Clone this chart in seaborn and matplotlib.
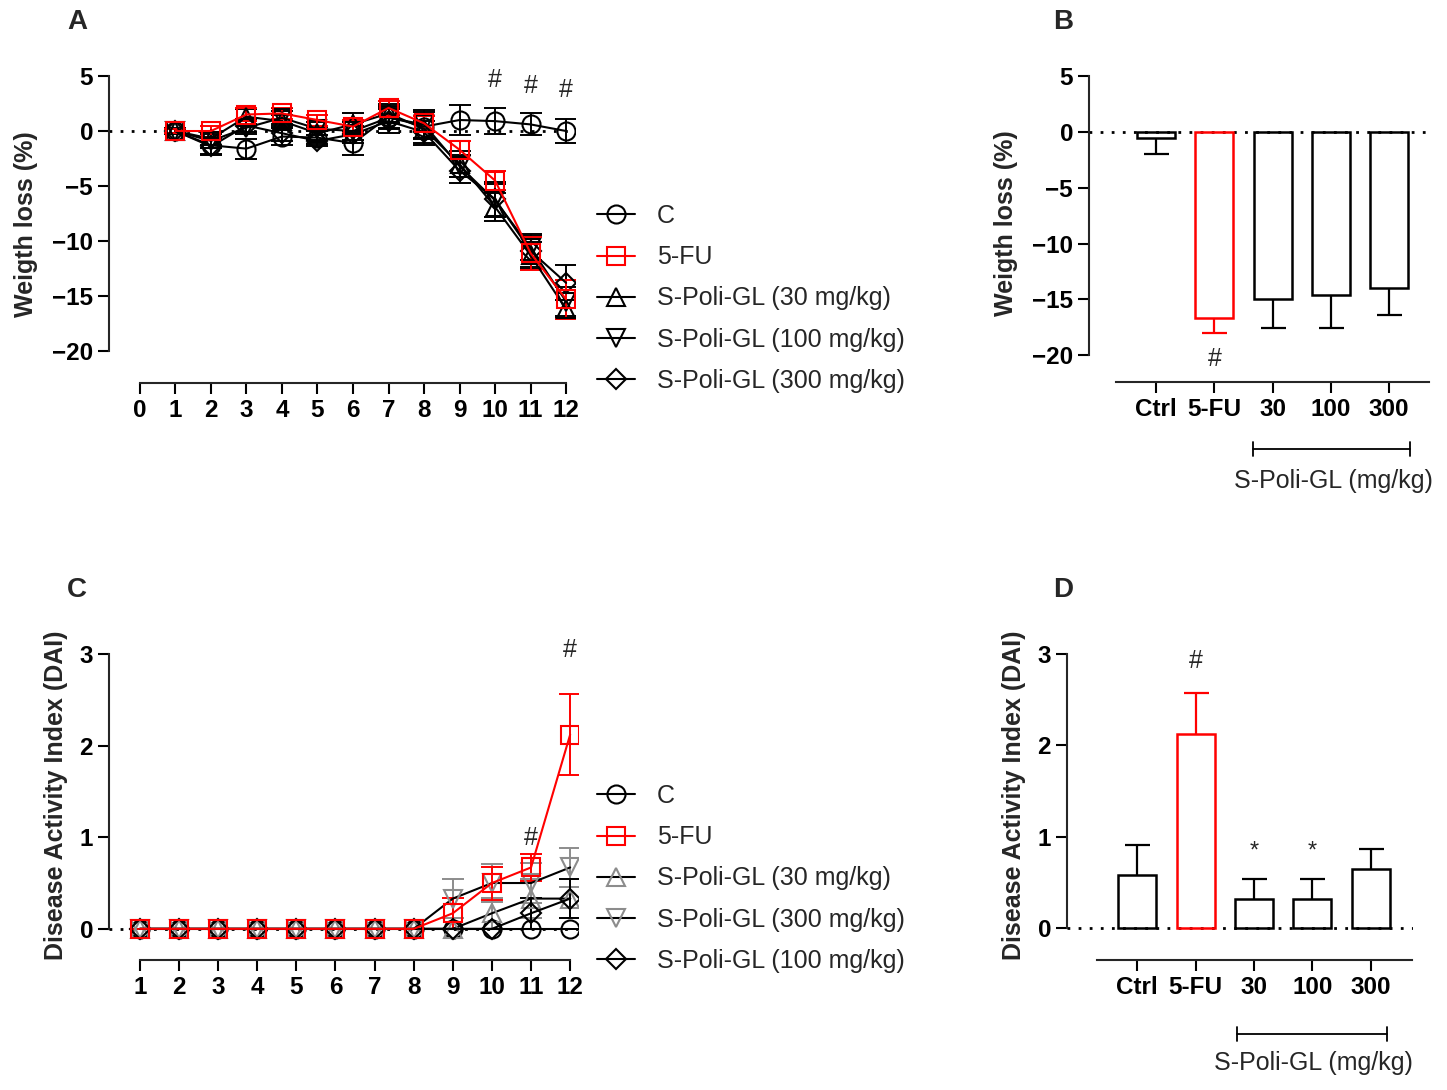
import numpy as np
import matplotlib
matplotlib.use('Agg')
import matplotlib.pyplot as plt
import matplotlib.transforms as mtransforms
import seaborn as sns

sns.set_style('ticks')
plt.rcParams['font.family'] = ['Liberation Sans', 'DejaVu Sans']

RED = '#ff0000'
GREY = '#8c8c8c'

# ---- panel A: weight loss (%) per day ----
days_a = [1, 2, 3, 4, 5, 6, 7, 8, 9, 10, 11, 12]
c_a = [0, -1.3, -1.6, -0.5, -0.6, -1.1, 1.3, 0.4, 1.0, 0.9, 0.6, 0.0]
c_a_sem = [0.3, 0.8, 0.9, 0.8, 0.6, 1.1, 1.0, 1.0, 1.4, 1.2, 1.0, 1.1]
fu_a = [0, 0.0, 1.5, 1.6, 1.0, 0.4, 2.1, 0.7, -1.7, -4.5, -11.1, -15.3]
fu_a_sem = [0.2, 0.5, 0.6, 0.5, 0.5, 0.6, 0.6, 0.7, 0.8, 0.9, 1.5, 1.8]
p30_a = [0, -0.7, 1.3, 0.9, -0.2, 0.6, 1.6, 0.2, -3.0, -6.9, -11.3, -16.2]
p30_a_sem = [0.2, 0.6, 0.7, 0.6, 0.6, 1.0, 0.9, 1.5, 1.2, 1.3, 1.2, 0.8]
p100_a = [0, -0.9, 0.3, 1.2, 0.2, 0.0, 1.2, 0.6, -3.2, -6.3, -10.6, -15.5]
p100_a_sem = [0.2, 0.6, 0.6, 0.6, 0.6, 0.8, 1.0, 1.3, 1.0, 1.5, 1.1, 1.3]
p300_a = [0, -1.4, 0.5, -0.2, -0.9, -0.3, 0.9, -0.1, -3.6, -6.2, -10.9, -13.8]
p300_a_sem = [0.2, 0.8, 0.6, 0.7, 0.5, 0.8, 1.1, 1.0, 1.1, 1.6, 1.5, 1.6]

# ---- panel C: DAI per day ----
days_c = [1, 2, 3, 4, 5, 6, 7, 8, 9, 10, 11, 12]
c_c = [0, 0, 0, 0, 0, 0, 0, 0, 0, 0, 0, 0]
c_c_sem = [0, 0, 0, 0, 0, 0, 0, 0, 0, 0, 0, 0]
fu_c = [0, 0, 0, 0, 0, 0, 0, 0, 0.17, 0.5, 0.67, 2.12]
fu_c_sem = [0, 0, 0, 0, 0, 0, 0, 0, 0.17, 0.18, 0.15, 0.44]
p30_c = [0, 0, 0, 0, 0, 0, 0, 0, 0, 0.17, 0.33, 0.33]
p30_c_sem = [0, 0, 0, 0, 0, 0, 0, 0, 0, 0.17, 0.21, 0.21]
p300_c = [0, 0, 0, 0, 0, 0, 0, 0, 0.33, 0.5, 0.5, 0.67]
p300_c_sem = [0, 0, 0, 0, 0, 0, 0, 0, 0.21, 0.21, 0.22, 0.21]
p100_c = [0, 0, 0, 0, 0, 0, 0, 0, 0, 0, 0.17, 0.33]
p100_c_sem = [0, 0, 0, 0, 0, 0, 0, 0, 0, 0, 0.17, 0.21]

# ---- panels B and D: day 12 ----
groups = ['Ctrl', '5-FU', '30', '100', '300']
b_vals = [-0.5, -16.7, -15.0, -14.6, -14.0]
b_sem = [1.5, 1.3, 2.6, 3.0, 2.4]
d_vals = [0.58, 2.12, 0.32, 0.32, 0.65]
d_sem = [0.33, 0.45, 0.22, 0.22, 0.22]

W, H = 1447, 1090
fig = plt.figure(figsize=(W / 100, H / 100), dpi=100)


def px_axes(left, top, right, bottom):
    return fig.add_axes([left / W, 1 - bottom / H, (right - left) / W, (bottom - top) / H])


def style_axes(ax, ybounds, xbounds):
    sns.despine(ax=ax)
    ax.spines['left'].set_bounds(*ybounds)
    ax.spines['bottom'].set_bounds(*xbounds)
    for s in ('left', 'bottom'):
        ax.spines[s].set_linewidth(1.5)
    ax.tick_params(width=1.5, length=8, labelsize=17.5, colors='black')
    for lab in ax.get_xticklabels() + ax.get_yticklabels():
        lab.set_fontweight('bold')
    ax.axhline(0, color='black', ls=(0, (1, 3)), lw=2, zorder=0.5)


def draw_series(ax, x, y, sem, color, mcolor, marker, label, ms=13):
    ax.errorbar(x, y, yerr=sem, fmt='none', ecolor=mcolor, elinewidth=1.4,
                capsize=8, capthick=1.4, zorder=2)
    sns.lineplot(x=x, y=y, color=color, marker=marker, markersize=ms,
                 markerfacecolor='none', markeredgecolor=mcolor, markeredgewidth=1.5,
                 linewidth=1.5, label=label, ax=ax, zorder=3)


def side_legend(ax, order, top_px):
    h, l = ax.get_legend_handles_labels()
    hd = dict(zip(l, h))
    ax.legend([hd[k] for k in order], order, loc='upper left',
              bbox_to_anchor=(597 / W, 1 - top_px / H), bbox_transform=fig.transFigure,
              frameon=False, fontsize=18, handlelength=1.5, handletextpad=0.9,
              labelspacing=0.69, borderaxespad=0, borderpad=0)


# ================= A =================
axA = px_axes(109, 65, 575, 383)
draw_series(axA, days_a, c_a, c_a_sem, 'black', 'black', 'o', 'C')
draw_series(axA, days_a, p30_a, p30_a_sem, 'black', 'black', '^', 'S-Poli-GL (30 mg/kg)')
draw_series(axA, days_a, p100_a, p100_a_sem, 'black', 'black', 'v', 'S-Poli-GL (100 mg/kg)')
draw_series(axA, days_a, p300_a, p300_a_sem, 'black', 'black', 'D', 'S-Poli-GL (300 mg/kg)', ms=10)
draw_series(axA, days_a, fu_a, fu_a_sem, RED, RED, 's', '5-FU')
axA.set_xlim(-0.87, 12.25)
axA.set_ylim(-22.9, 6)
axA.set_xticks(range(0, 13))
axA.set_yticks([5, 0, -5, -10, -15, -20])
axA.set_xlabel('')
axA.set_ylabel('Weigth loss (%)', fontsize=18, fontweight='bold', labelpad=10)
style_axes(axA, (-20, 5), (0, 12))
for d, yy in zip([10, 11, 12], [4.6, 4.1, 3.7]):
    axA.text(d, yy, '#', fontsize=18, ha='center', va='center')
side_legend(axA, ['C', '5-FU', 'S-Poli-GL (30 mg/kg)', 'S-Poli-GL (100 mg/kg)',
                  'S-Poli-GL (300 mg/kg)'], 204)

# ================= C =================
axC = px_axes(109, 631, 578, 960)
draw_series(axC, days_c, c_c, c_c_sem, 'black', 'black', 'o', 'C')
draw_series(axC, days_c, p30_c, p30_c_sem, 'black', GREY, '^', 'S-Poli-GL (30 mg/kg)')
draw_series(axC, days_c, p300_c, p300_c_sem, 'black', GREY, 'v', 'S-Poli-GL (300 mg/kg)')
draw_series(axC, days_c, p100_c, p100_c_sem, 'black', 'black', 'D', 'S-Poli-GL (100 mg/kg)', ms=10)
draw_series(axC, days_c, fu_c, fu_c_sem, RED, RED, 's', '5-FU')
axC.set_xlim(0.21, 12.2)
axC.set_ylim(-0.34, 3.25)
axC.set_xticks(range(1, 13))
axC.set_yticks([0, 1, 2, 3])
axC.set_xlabel('')
axC.set_ylabel('Disease Activity Index (DAI)', fontsize=18, fontweight='bold', labelpad=8)
style_axes(axC, (0, 3), (1, 12))
axC.text(11, 0.99, '#', fontsize=18, ha='center', va='center')
axC.text(12, 3.04, '#', fontsize=18, ha='center', va='center')
side_legend(axC, ['C', '5-FU', 'S-Poli-GL (30 mg/kg)', 'S-Poli-GL (300 mg/kg)',
                  'S-Poli-GL (100 mg/kg)'], 784)


# ================= bar panels =================
def bar_panel(ax, vals, sem, downward):
    pal = ['black', RED, 'black', 'black', 'black']
    sns.barplot(x=groups, y=vals, hue=groups, palette=pal, fill=False, legend=False,
                width=0.65, linewidth=1.8, errorbar=None, ax=ax, zorder=2)
    xs = np.arange(len(groups))
    zeros = np.zeros(len(groups))
    yerr = [sem, zeros] if downward else [zeros, sem]
    for i in range(len(groups)):
        _, caps, _ = ax.errorbar(xs[i], vals[i], yerr=[[yerr[0][i]], [yerr[1][i]]],
                                 fmt='none', ecolor=pal[i], elinewidth=1.6,
                                 capsize=9, capthick=1.6, zorder=3)
        caps[1 if downward else 0].set_visible(False)
    ax.set_xlabel('')


def group_bracket(ax, x0, x1, yb, ytxt):
    tr = mtransforms.blended_transform_factory(ax.transData, ax.transAxes)
    ax.plot([x0, x1], [yb, yb], color='black', lw=1.3, transform=tr, clip_on=False)
    for xx in (x0, x1):
        ax.plot([xx, xx], [yb - 0.022, yb + 0.022], color='black', lw=1.3,
                transform=tr, clip_on=False)
    ax.text((x0 + x1) / 2 + 0.03, ytxt, 'S-Poli-GL (mg/kg)', fontsize=18,
            ha='center', va='center', transform=tr)


axB = px_axes(1089, 65, 1430, 382)
bar_panel(axB, b_vals, b_sem, downward=True)
axB.set_xlim(-1.15, 4.7)
axB.set_ylim(-22.4, 6)
axB.set_yticks([5, 0, -5, -10, -15, -20])
axB.set_ylabel('Weigth loss (%)', fontsize=18, fontweight='bold', labelpad=10)
style_axes(axB, (-20, 5), (-0.69, 4.68))
axB.text(1, -20.3, '#', fontsize=18, ha='center', va='center')
group_bracket(axB, 1.66, 4.36, -0.211, -0.312)

axD = px_axes(1067, 631, 1413, 960)
bar_panel(axD, d_vals, d_sem, downward=False)
axD.set_xlim(-1.2, 4.72)
axD.set_ylim(-0.35, 3.25)
axD.set_yticks([0, 1, 2, 3])
axD.set_ylabel('Disease Activity Index (DAI)', fontsize=18, fontweight='bold', labelpad=8)
style_axes(axD, (0, 3), (-0.68, 4.7))
axD.text(1, 2.92, '#', fontsize=18, ha='center', va='center')
for xx in (2, 3):
    axD.text(xx, 0.84, '*', fontsize=17, ha='center', va='center')
group_bracket(axD, 1.71, 4.27, -0.225, -0.313)

# panel letters
for letter, (x, y) in {'A': (77, 22), 'B': (1063, 22), 'C': (77, 590), 'D': (1063, 590)}.items():
    fig.text(x / W, 1 - y / H, letter, fontsize=20, fontweight='bold', ha='center', va='center')

fig.savefig('out.png', dpi=100)
